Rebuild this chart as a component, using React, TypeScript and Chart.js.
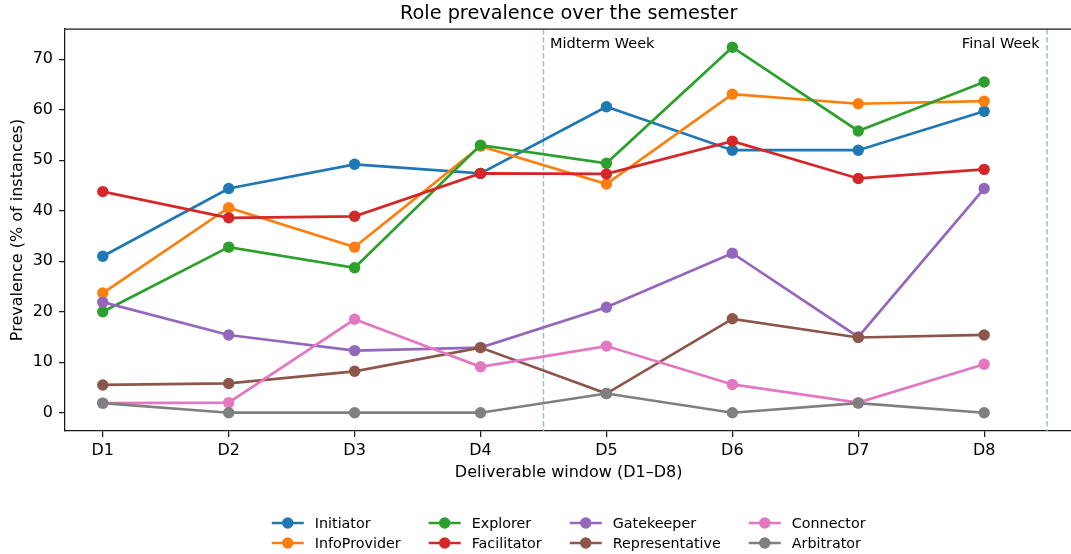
import React, { useEffect, useRef } from "react";
import { Chart, registerables } from "chart.js";

Chart.register(...registerables);

const categories = ["D1", "D2", "D3", "D4", "D5", "D6", "D7", "D8"];
const roles = [
  "Initiator",
  "InfoProvider",
  "Explorer",
  "Facilitator",
  "Gatekeeper",
  "Representative",
  "Connector",
  "Arbitrator",
];
const initiator = [31.0, 44.4, 49.2, 47.4, 60.6, 52.0, 52.0, 59.7];
const infoProvider = [23.7, 40.6, 32.8, 52.8, 45.3, 63.1, 61.2, 61.7];
const explorer = [20.0, 32.8, 28.7, 53.0, 49.4, 72.4, 55.8, 65.5];
const facilitator = [43.8, 38.6, 38.9, 47.4, 47.3, 53.8, 46.4, 48.2];
const gatekeeper = [21.9, 15.4, 12.3, 12.9, 20.9, 31.6, 15.0, 44.4];
const representative = [5.5, 5.8, 8.2, 12.9, 3.8, 18.6, 14.9, 15.4];
const connector = [1.9, 2.0, 18.5, 9.1, 13.2, 5.6, 2.0, 9.6];
const arbitrator = [1.9, 0, 0, 0, 3.8, 0, 1.9, 0];
const yTicks = [0, 10, 20, 30, 40, 50, 60, 70];
const eventLines = [3.5, 7.5];
const eventLabels = ["Midterm Week", "Final Week"];

const colors = [
  "#1f77b4",
  "#ff7f0e",
  "#2ca02c",
  "#d62728",
  "#9467bd",
  "#8c564b",
  "#e377c2",
  "#7f7f7f",
];

const FONT = '"DejaVu Sans", sans-serif';
const TEXT = "#000000";
const SPINE = "#1a1a1a";

export default function App() {
  const ref = useRef<HTMLCanvasElement>(null);

  useEffect(() => {
    const canvas = ref.current;
    if (!canvas) return;
    const series = [
      initiator,
      infoProvider,
      explorer,
      facilitator,
      gatekeeper,
      representative,
      connector,
      arbitrator,
    ];
    const datasets = series.map((vals, i) => ({
      label: roles[i],
      data: vals.map((v, j) => ({ x: j, y: v })),
      borderColor: colors[i],
      backgroundColor: colors[i],
      pointBackgroundColor: colors[i],
      pointBorderColor: colors[i],
      pointBorderWidth: 0,
      pointRadius: 5.7,
      pointHoverRadius: 5.7,
      borderWidth: 2.7,
      tension: 0,
      order: series.length - i,
    }));

    const overlay = {
      id: "overlay",
      beforeDatasetsDraw(chart: any) {
        const ctx = chart.ctx as CanvasRenderingContext2D;
        const { top, bottom } = chart.chartArea;
        const xs = chart.scales.x;
        ctx.save();
        ctx.strokeStyle = "#8fbde0";
        ctx.lineWidth = 1.4;
        ctx.setLineDash([5.5, 2.5]);
        eventLines.forEach((v) => {
          const px = xs.getPixelForValue(v);
          ctx.beginPath();
          ctx.moveTo(px, top);
          ctx.lineTo(px, bottom);
          ctx.stroke();
        });
        ctx.restore();
      },
      afterDraw(chart: any) {
        const ctx = chart.ctx as CanvasRenderingContext2D;
        const { left, right, top, bottom } = chart.chartArea;
        const xs = chart.scales.x;
        const cx = (left + right) / 2;
        ctx.save();
        // top spine
        ctx.strokeStyle = SPINE;
        ctx.lineWidth = 1.25;
        ctx.beginPath();
        ctx.moveTo(left, top);
        ctx.lineTo(right, top);
        ctx.stroke();

        ctx.fillStyle = TEXT;
        // title
        ctx.font = `19.3px ${FONT}`;
        ctx.textAlign = "center";
        ctx.textBaseline = "alphabetic";
        ctx.fillText("Role prevalence over the semester", cx, 18.5);

        // x axis title
        ctx.font = `16px ${FONT}`;
        ctx.fillText("Deliverable window (D1\u2013D8)", cx, 477);

        // y axis title
        ctx.save();
        ctx.translate(22, (top + bottom) / 2);
        ctx.rotate(-Math.PI / 2);
        ctx.textAlign = "center";
        ctx.fillText("Prevalence (% of instances)", 0, 0);
        ctx.restore();

        // event labels
        ctx.font = `14.5px ${FONT}`;
        eventLines.forEach((v, i) => {
          const px = xs.getPixelForValue(v);
          if (i === 0) {
            ctx.textAlign = "left";
            ctx.fillText(eventLabels[i], px + 6.5, 47.5);
          } else {
            ctx.textAlign = "right";
            ctx.fillText(eventLabels[i], px - 7.5, 47.5);
          }
        });

        // legend (4 columns, column-major)
        ctx.font = `14.3px ${FONT}`;
        const nCols = 4;
        const nRows = 2;
        const handleLen = 32;
        const textOff = 43;
        const spacing = 28;
        const colWidths: number[] = [];
        for (let c = 0; c < nCols; c++) {
          let w = 0;
          for (let r = 0; r < nRows; r++) {
            const idx = c * nRows + r;
            if (idx < roles.length) w = Math.max(w, ctx.measureText(roles[idx]).width);
          }
          colWidths.push(textOff + w);
        }
        const total = colWidths.reduce((a, b) => a + b, 0) + spacing * (nCols - 1);
        let x0 = cx - total / 2;
        const rowY = [523, 543];
        for (let c = 0; c < nCols; c++) {
          for (let r = 0; r < nRows; r++) {
            const idx = c * nRows + r;
            if (idx >= roles.length) continue;
            const y = rowY[r];
            ctx.strokeStyle = colors[idx];
            ctx.lineWidth = 2.7;
            ctx.setLineDash([]);
            ctx.beginPath();
            ctx.moveTo(x0, y);
            ctx.lineTo(x0 + handleLen, y);
            ctx.stroke();
            ctx.fillStyle = colors[idx];
            ctx.beginPath();
            ctx.arc(x0 + handleLen / 2, y, 5.7, 0, Math.PI * 2);
            ctx.fill();
            ctx.fillStyle = TEXT;
            ctx.textAlign = "left";
            ctx.textBaseline = "alphabetic";
            ctx.fillText(roles[idx], x0 + textOff, y + 5);
          }
          x0 += colWidths[c] + spacing;
        }
        ctx.restore();
      },
    };

    const chart = new Chart(canvas, {
      type: "line",
      data: { datasets: datasets as any },
      options: {
        responsive: false,
        animation: false,
        events: [],
        layout: { padding: { left: 0, right: 1, top: 29, bottom: 0 } },
        plugins: {
          legend: { display: false },
          title: { display: false },
          tooltip: { enabled: false },
        },
        scales: {
          x: {
            type: "linear",
            min: -0.3,
            max: 7.7,
            afterBuildTicks: (s: any) => {
              s.ticks = categories.map((_, i) => ({ value: i }));
            },
            afterFit: (s: any) => {
              s.height = 554 - 431;
            },
            ticks: {
              autoSkip: false,
              maxRotation: 0,
              padding: 4,
              color: TEXT,
              font: { family: FONT, size: 16 },
              callback: (v: any) => categories[Number(v)] ?? "",
            },
            grid: {
              drawOnChartArea: false,
              drawTicks: true,
              tickLength: 6,
              color: SPINE,
              lineWidth: 1.25,
            },
            border: { display: true, color: SPINE, width: 1.25 },
          },
          y: {
            type: "linear",
            min: -3.62,
            max: 76.0,
            afterBuildTicks: (s: any) => {
              s.ticks = yTicks.map((v) => ({ value: v }));
            },
            afterFit: (s: any) => {
              s.width = 65;
            },
            ticks: {
              padding: 6,
              color: TEXT,
              font: { family: FONT, size: 16 },
              callback: (v: any) => String(v),
            },
            grid: {
              drawOnChartArea: false,
              drawTicks: true,
              tickLength: 6,
              color: SPINE,
              lineWidth: 1.25,
            },
            border: { display: true, color: SPINE, width: 1.25 },
          },
        },
      },
      plugins: [overlay],
    });
    return () => chart.destroy();
  }, []);

  return (
    <div
      style={{
        position: "absolute",
        left: 0,
        top: 0,
        width: 1071,
        height: 554,
        overflow: "hidden",
        background: "#ffffff",
      }}
    >
      <canvas
        ref={ref}
        width={1078}
        height={554}
        style={{ display: "block", width: 1078, height: 554 }}
      />
    </div>
  );
}
